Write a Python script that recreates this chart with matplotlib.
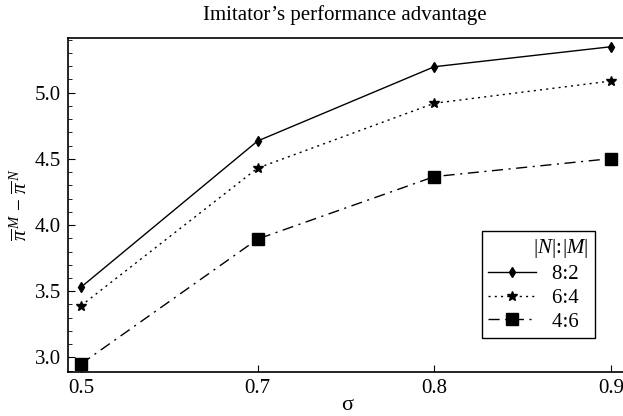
import numpy as np
import matplotlib.pyplot as plt
from matplotlib.ticker import MultipleLocator

# sigma categories (evenly spaced on the axis)
sigma = ["0.5", "0.7", "0.8", "0.9"]

# imitator's performance advantage per |N|:|M| ratio
adv_82 = [3.53, 4.635, 5.196, 5.347]
adv_64 = [3.39, 4.43, 4.92, 5.088]
adv_46 = [2.95, 3.894, 4.366, 4.502]

plt.rcParams["font.family"] = ["Liberation Serif", "DejaVu Serif"]
plt.rcParams["mathtext.fontset"] = "custom"
plt.rcParams["mathtext.rm"] = "Liberation Serif"
plt.rcParams["mathtext.it"] = "Liberation Serif:italic"

fig = plt.figure(figsize=(6.23, 4.16), dpi=100)
W, H = 623, 416
ax = fig.add_axes([68 / W, 1 - 372 / H, (626 - 68) / W, (372 - 38) / H])

x = np.arange(len(sigma))
ax.plot(x, adv_82, color="black", lw=1.0, ls="-", marker="d", ms=5.5, label="8:2")
ax.plot(x, adv_64, color="black", lw=1.0, ls=(0, (1.5, 3)), marker="*", ms=7, label="6:4")
ax.plot(x, adv_46, color="black", lw=1.0, ls=(0, (8, 4, 1.5, 4)), marker="s", ms=8, label="4:6")

ax.set_xticks(x)
ax.set_xticklabels(sigma)
ax.set_xlim(-0.073, 3.085)
ax.set_ylim(2.89, 5.413)
ax.yaxis.set_major_locator(MultipleLocator(0.5))
ax.yaxis.set_minor_locator(MultipleLocator(0.1))
ax.yaxis.set_major_formatter(plt.FormatStrFormatter("%.1f"))

ax.spines["right"].set_visible(False)
for s in ["left", "bottom", "top"]:
    ax.spines[s].set_linewidth(1.2)
ax.tick_params(axis="both", which="both", direction="in", labelsize=15,
               right=False, top=False)
ax.tick_params(axis="y", which="major", length=5, pad=5)
ax.tick_params(axis="y", which="minor", length=3)
ax.tick_params(axis="x", which="major", length=5, pad=5)

ax.set_xlabel("σ", fontsize=16)
ax.xaxis.set_label_coords(0.5, (372 - 406) / (372 - 38))
ax.xaxis.label.set_verticalalignment("center")
ax.set_ylabel(r"$\overline{\pi}^{\,M}\, -\, \overline{\pi}^{\,N}$", fontsize=15, labelpad=2)
fig.text(345 / W, 1 - 15 / H, "Imitator’s performance advantage",
         ha="center", va="center", fontsize=15)

leg = ax.legend(title=r"$|N|\!:\!|M|$", loc="lower right",
                bbox_to_anchor=((595 - 68) / (626 - 68), (372 - 338) / (372 - 38)),
                fontsize=15, title_fontsize=15, frameon=True, fancybox=False,
                edgecolor="black", framealpha=1, handlelength=2.3,
                borderaxespad=0, borderpad=0.3, labelspacing=0.2, handletextpad=0.75)
leg._legend_box.align = "right"
leg.get_frame().set_linewidth(1.0)
# a bit of extra room on the right of the labels, as in the reference
for t in leg.get_texts():
    t.set_text(t.get_text() + "  ")

fig.savefig("out.png", dpi=100)
